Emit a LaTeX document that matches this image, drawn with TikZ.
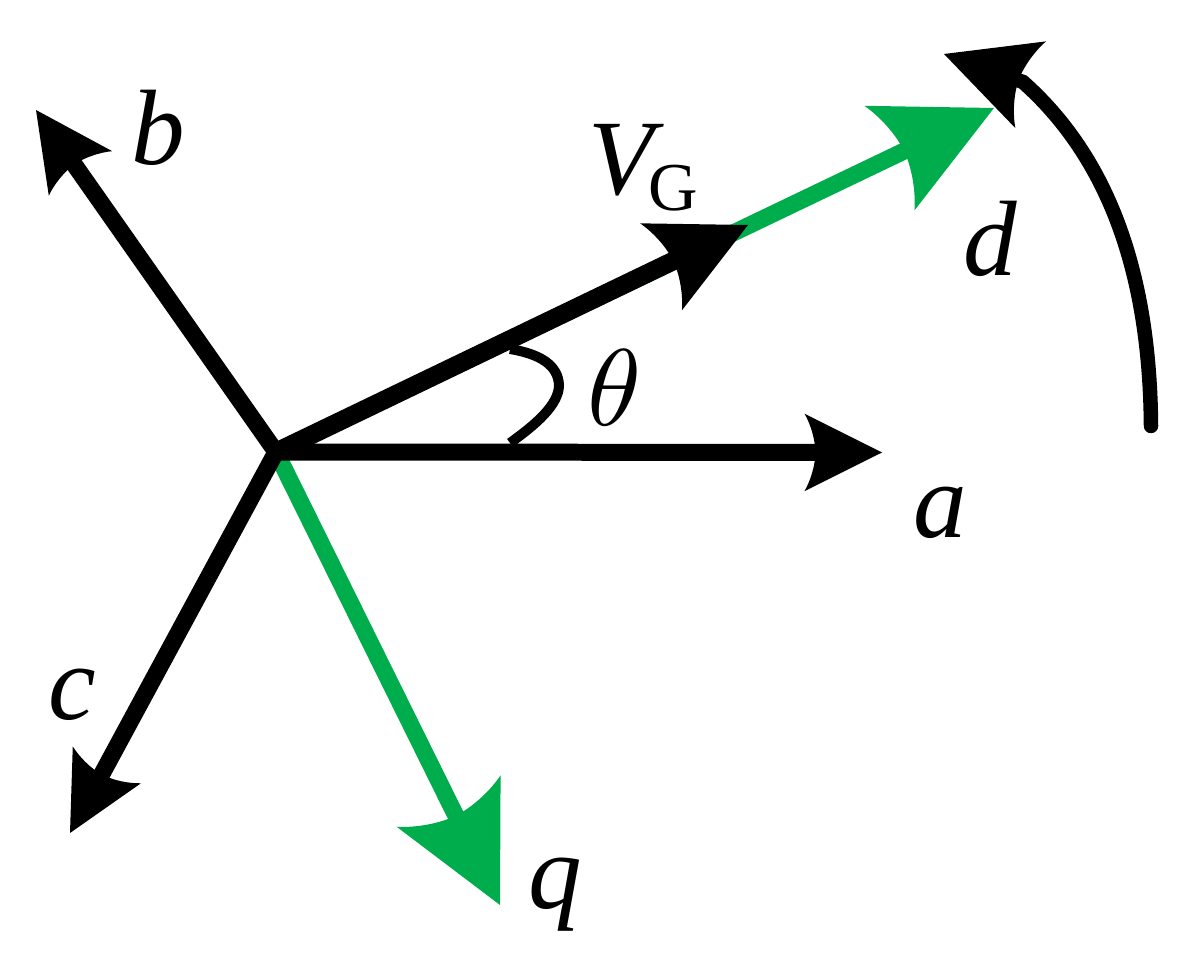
\documentclass[tikz,border=0pt]{standalone}
\usepackage{fontspec}
\setmainfont{Liberation Serif}
\usepackage{xcolor}
\usetikzlibrary{arrows.meta,positioning}
\definecolor{axisgreen}{RGB}{0,173,76}
\pgfdeclarearrow{
	name=CurvedBack,
	parameters={\the\pgfarrowlength},
	setup code={
		\pgfarrowssettipend{\pgfarrowlength}
		\pgfarrowssetlineend{0.3\pgfarrowlength}
		\pgfarrowssavethe\pgfarrowlength
	},
	drawing code={
		\pgfpathmoveto{\pgfqpoint{\pgfarrowlength}{0pt}}
		\pgfpathlineto{\pgfqpoint{0pt}{0.5\pgfarrowlength}}
		\pgfpathcurveto{\pgfqpoint{0.08\pgfarrowlength}{0.36\pgfarrowlength}}{\pgfqpoint{0.14\pgfarrowlength}{0.16\pgfarrowlength}}{\pgfqpoint{0.14\pgfarrowlength}{0pt}}
		\pgfpathcurveto{\pgfqpoint{0.14\pgfarrowlength}{-0.16\pgfarrowlength}}{\pgfqpoint{0.08\pgfarrowlength}{-0.36\pgfarrowlength}}{\pgfqpoint{0pt}{-0.5\pgfarrowlength}}
		\pgfpathclose
		\pgfusepathqfill
	},
	defaults={length=1.55cm}
}
\tikzset{
	axis/.style={line width=0.34cm,-{CurvedBack[length=1.55cm]}},
	greenaxis/.style={line width=0.34cm,axisgreen,-{CurvedBack[length=2.32cm]}},
	letter/.style={font=\fontsize{61}{61}\selectfont\itshape,inner sep=0pt},
}
\begin{document}
\begin{tikzpicture}[x=0.02cm,y=-0.02cm]
	\useasboundingbox (0,0) rectangle (1194,959);
	\coordinate (O) at (276,452);
	\coordinate (a) at (882,452.5);
	\coordinate (b) at (36,110);
	\coordinate (c) at (70,833);
	\coordinate (d) at (994,108);
	\coordinate (q) at (500,905);
	\coordinate (vg) at (748,225);
	% green axes under the black ones
	\draw[greenaxis] (O) -- (d);
	\draw[greenaxis] (O) -- (q);
	\draw[axis] (O) -- (a);
	\draw[axis] (O) -- (b);
	\draw[axis] (O) -- (c);
	\draw[axis,line width=0.37cm,-{CurvedBack[length=1.93cm]}] (O) -- (vg);
	% angle and rotation
	\coordinate (t1) at (510,349);
	\coordinate (t2) at (510,443);
	\draw[line width=0.2cm] (t1) .. controls (540,354) and (558,365) .. (559,385) .. controls (559,405) and (535,425) .. (t2);
	\coordinate (r1) at (1151,426);
	\coordinate (r2) at (1023,82);
	\coordinate (r3) at (944,54);
	\draw[line width=0.29cm,line cap=round,-{CurvedBack[length=1.84cm]}] (r1) .. controls (1150,300) and (1122,170) .. (r2) -- (r3);
	\begin{scope}[every node/.style={letter}]
		\node (la) at (940,513) {a};
		\node (lb) at (158,128) {b};
		\node (lc) at (72,695) {c};
		\node (ld) at (990,239) {d};
		\node (lq) at (555,895) {q};
		\node (lv) at (621,160) {V};
	\end{scope}
	\node[scale=6.2,inner sep=0pt] (lth) at (615,388) {$\theta$};
	\node[font=\fontsize{39}{39}\selectfont,inner sep=0pt] (lg) at (673,188) {G};
\end{tikzpicture}
\end{document}
